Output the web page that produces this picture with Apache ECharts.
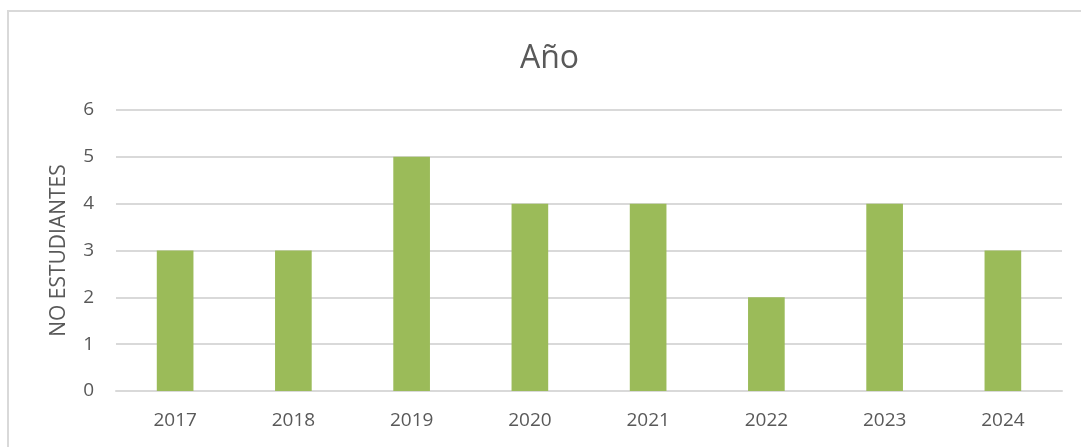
<!DOCTYPE html>
<html>
<head>
<meta charset="utf-8">
<script src="https://cdn.jsdelivr.net/npm/echarts@6/dist/echarts.min.js"></script>
<style>
  html, body { margin: 0; padding: 0; background: #fff; }
  #frame { position: absolute; left: 7px; top: 10px; width: 1090px; height: 460px; border: 2px solid #d9d9d9; box-sizing: border-box; }
  #chart { position: absolute; left: 0; top: 0; width: 1081px; height: 447px; }
</style>
</head>
<body>
<div id="frame"></div>
<div id="chart"></div>
<script>
const categories = ['2017', '2018', '2019', '2020', '2021', '2022', '2023', '2024'];
const students = [3, 3, 5, 4, 4, 2, 4, 3];
const titleText = 'Año';
const yAxisName = 'NO ESTUDIANTES';

const chart = echarts.init(document.getElementById('chart'), null, { renderer: 'canvas' });
const font = '"Open Sans", "Noto Sans", sans-serif';
chart.setOption({
  animation: false,
  title: {
    text: titleText,
    left: 515,
    top: 38,
    textStyle: { fontFamily: font, fontSize: 32, fontWeight: 'normal', color: '#595959' }
  },
  grid: { left: 116, right: 19, top: 110, bottom: 56 },
  xAxis: {
    type: 'category',
    data: categories,
    axisLine: { show: true, lineStyle: { color: '#d9d9d9', width: 2 } },
    axisTick: { show: false },
    axisLabel: { fontFamily: font, fontSize: 19, color: '#595959', margin: 20 }
  },
  yAxis: {
    type: 'value',
    min: 0,
    max: 6,
    interval: 1,
    name: yAxisName,
    nameLocation: 'middle',
    nameGap: 46,
    nameTextStyle: { fontFamily: font, fontSize: 21, color: '#595959' },
    axisLine: { show: false },
    axisTick: { show: false },
    axisLabel: { fontFamily: font, fontSize: 19, color: '#595959', margin: 22 },
    splitLine: { lineStyle: { color: '#d9d9d9', width: 2 } }
  },
  series: [{
    type: 'bar',
    data: students,
    barWidth: '31%',
    itemStyle: { color: '#9bbb59' }
  }]
});
</script>
</body>
</html>
